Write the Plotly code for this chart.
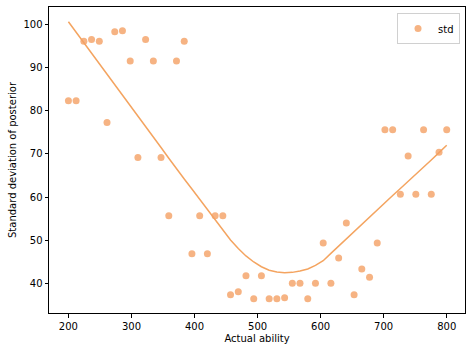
import plotly.graph_objects as go

ability = [200, 212.2, 224.5, 236.7, 249, 261.2, 273.5, 285.7, 298, 310.2,
           322.4, 334.7, 346.9, 359.2, 371.4, 383.7, 395.9, 408.2, 420.4, 432.7,
           444.9, 457.1, 469.4, 481.6, 493.9, 506.1, 518.4, 530.6, 542.9, 555.1,
           567.3, 579.6, 591.8, 604.1, 616.3, 628.6, 640.8, 653.1, 665.3, 677.6,
           689.8, 702, 714.3, 726.5, 738.8, 751, 763.3, 775.5, 787.8, 800]

std = [82.3, 82.3, 96.1, 96.5, 96.1, 77.3, 98.3, 98.5, 91.5, 69.2,
       96.5, 91.5, 69.2, 55.7, 91.5, 96.1, 46.9, 55.7, 46.9, 55.7,
       55.7, 37.4, 38.1, 41.8, 36.5, 41.8, 36.5, 36.5, 36.7, 40.1,
       40.1, 36.5, 40.1, 49.4, 40.1, 45.9, 54.0, 37.4, 43.4, 41.5,
       49.4, 75.6, 75.6, 60.7, 69.5, 60.7, 75.6, 60.7, 70.4, 75.6]

smooth = [100.6, 98.2, 95.8, 93.4, 91.0, 88.6, 86.2, 83.8, 81.3, 78.9,
          76.5, 74.0, 71.5, 69.0, 66.5, 64.2, 61.9, 59.5, 57.2, 54.8,
          52.5, 50.1, 48.1, 46.4, 45.0, 43.9, 43.1, 42.7, 42.5, 42.6,
          42.9, 43.4, 44.2, 45.3, 47.0, 48.7, 50.4, 52.0, 53.7, 55.4,
          57.1, 58.7, 60.4, 62.0, 63.6, 65.3, 66.9, 68.6, 70.3, 72.0]

fig = go.Figure()
fig.add_trace(go.Scatter(
    x=ability, y=smooth, mode="lines", showlegend=False,
    line=dict(color="#F4A460", width=1.5), hoverinfo="skip"))
fig.add_trace(go.Scatter(
    x=ability, y=std, mode="markers", name="std",
    marker=dict(color="rgba(244,160,100,0.8)", size=7, line=dict(width=0))))

axis_common = dict(
    showgrid=False, zeroline=False, showline=True, linecolor="black",
    linewidth=1, mirror=True, ticks="outside", ticklen=3.5, tickwidth=1,
    tickcolor="black", tickfont=dict(family="DejaVu Sans", size=10, color="black"),
    title_font=dict(family="DejaVu Sans", size=10, color="black"))

fig.update_xaxes(range=[169.2, 829], tickvals=[200, 300, 400, 500, 600, 700, 800],
                 title_text="Actual ability", title_standoff=4, **axis_common)
fig.update_yaxes(range=[33.2, 104], tickvals=[40, 50, 60, 70, 80, 90, 100],
                 title_text="Standard deviation of posterior", title_standoff=4,
                 **axis_common)

fig.update_layout(
    width=472, height=352,
    margin=dict(l=49, r=7, t=7, b=39),
    paper_bgcolor="white", plot_bgcolor="white",
    font=dict(family="DejaVu Sans", size=10, color="black"),
    legend=dict(x=0.988, y=0.98, xanchor="right", yanchor="top",
                bordercolor="#d0d0d0", borderwidth=1, bgcolor="white",
                font=dict(size=10), itemwidth=30),
)

fig.write_html("out.html")
